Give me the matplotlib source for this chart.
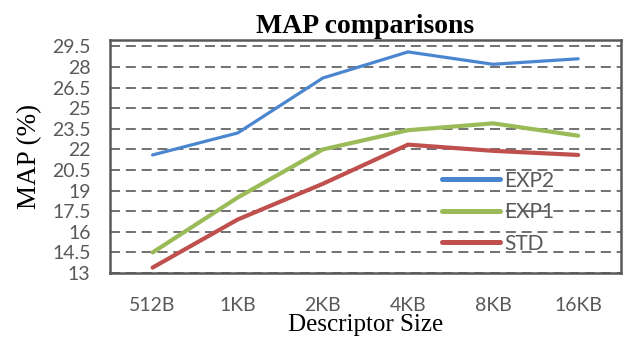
import matplotlib
matplotlib.use("Agg")
import matplotlib.pyplot as plt
import numpy as np

# MAP (%) per descriptor size for each method
sizes = ["512B", "1KB", "2KB", "4KB", "8KB", "16KB"]
exp2 = [21.6, 23.2, 27.2, 29.1, 28.2, 28.6]
exp1 = [14.5, 18.5, 22.0, 23.4, 23.9, 23.0]
std = [13.4, 16.9, 19.5, 22.35, 21.9, 21.6]

y_ticks = [13, 14.5, 16, 17.5, 19, 20.5, 22, 23.5, 25, 26.5, 28, 29.5]

gray = "#595959"
tick_font = "Lato"
serif = "Liberation Serif"

fig = plt.figure(figsize=(6.36, 3.47), dpi=100)
ax = fig.add_axes([0.173, 0.213, 0.803, 0.673])

x = np.arange(len(sizes))
ax.plot(x, exp2, color="#4A86D0", lw=2.3, label="EXP2", solid_capstyle="round")
ax.plot(x, exp1, color="#9BBB59", lw=3.0, label="EXP1", solid_capstyle="round")
ax.plot(x, std, color="#C0504D", lw=3.0, label="STD", solid_capstyle="round")

ax.set_xlim(-0.5, len(sizes) - 0.5)
ax.set_ylim(13, 30)
ax.set_xticks(x)
ax.set_xticklabels(sizes, fontname=tick_font, fontsize=14, color=gray)
ax.set_yticks(y_ticks)
ax.set_yticklabels([f"{v:g}" for v in y_ticks], fontname=tick_font,
                   fontsize=14, color=gray)
ax.tick_params(length=0)
ax.tick_params(axis="y", pad=14)
ax.tick_params(axis="x", pad=17)

ax.grid(axis="y", color=gray, lw=1.2, linestyle=(0, (6, 3.5)))
ax.set_axisbelow(True)
for s in ax.spines.values():
    s.set_color(gray)
    s.set_linewidth(1.8)

ax.set_title("MAP comparisons", fontname=serif, fontweight="bold",
             fontsize=20, pad=5)
ax.set_xlabel("Descriptor Size", fontname=serif, fontsize=18, labelpad=0.5)
ax.set_ylabel("MAP (%)", fontname=serif, fontsize=19.5, labelpad=7)

leg = ax.legend(loc="center left", bbox_to_anchor=(0.650, 0.261),
                frameon=False, borderpad=0, borderaxespad=0,
                handlelength=2.8, handletextpad=0.2, labelspacing=0.55,
                prop={"family": tick_font, "size": 15})
for h in leg.get_lines():
    h.set_linewidth(3.6)
    h.set_solid_capstyle("round")
for t in leg.get_texts():
    t.set_color(gray)

fig.savefig("out.png", dpi=100)
